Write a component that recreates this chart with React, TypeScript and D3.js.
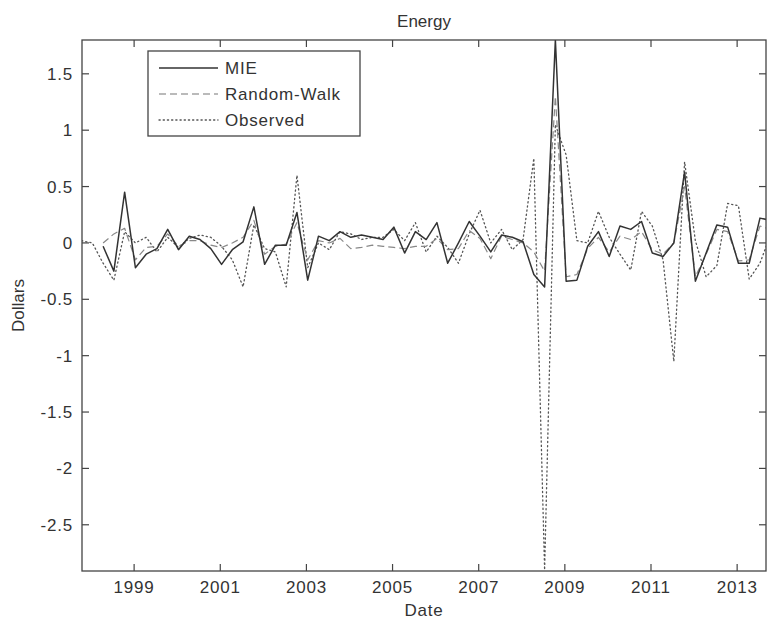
import * as d3 from "d3";
import React from "react";

// quarterly observations, first quarter sits on the left edge of the axes
const firstDate = 1997.78;
const quarterStep = 0.25;

const observed = [
  0.02, 0.0, -0.18, -0.33, 0.1, 0.0, 0.05, -0.08, 0.05, -0.04,
  0.04, 0.07, 0.05, -0.03, -0.15, -0.39, 0.16, -0.05, -0.08, -0.39,
  0.6, -0.22, 0.0, -0.06, 0.1, 0.08, 0.03, 0.05, 0.05, 0.12,
  0.02, 0.18, -0.08, 0.06, -0.04, -0.18, 0.08, 0.29, 0.0, 0.12,
  -0.06, 0.03, 0.75, -2.9, 1.05, 0.78, 0.02, 0.0, 0.28, 0.05,
  -0.1, -0.24, 0.28, 0.15, -0.15, -1.05, 0.72, 0.02, -0.3, -0.2,
  0.35, 0.33, -0.32, -0.18, 0.08,
];

const mie = [
  null, null, -0.03, -0.25, 0.45, -0.22, -0.1, -0.05, 0.12, -0.06,
  0.06, 0.03, -0.05, -0.19, -0.06, 0.01, 0.32, -0.19, -0.02, -0.02,
  0.27, -0.33, 0.06, 0.02, 0.1, 0.05, 0.07, 0.05, 0.03, 0.14,
  -0.09, 0.1, 0.03, 0.18, -0.18, 0.0, 0.19, 0.06, -0.08, 0.07,
  0.05, 0.01, -0.28, -0.39, 1.8, -0.34, -0.33, -0.03, 0.1, -0.12,
  0.15, 0.12, 0.19, -0.09, -0.12, 0.0, 0.63, -0.34, -0.09, 0.16,
  0.14, -0.18, -0.18, 0.22, 0.2,
];

const randomWalk = [
  null, null, 0.0, 0.08, 0.13, -0.15, -0.04, -0.03, 0.08, -0.03,
  0.02, 0.02, -0.02, -0.04, 0.0, 0.05, 0.2, -0.1, -0.03, -0.01,
  0.18, -0.15, 0.02, 0.0, 0.04, -0.05, -0.04, -0.02, -0.03, -0.04,
  -0.05, -0.03, -0.03, 0.04, -0.06, -0.05, 0.11, 0.04, -0.14, 0.06,
  0.03, 0.0, -0.08, -0.25, 1.3, -0.3, -0.28, -0.05, 0.05, -0.08,
  0.06, 0.03, 0.1, -0.06, -0.1, 0.0, 0.5, -0.3, -0.1, 0.12,
  0.1, -0.16, -0.15, 0.15, 0.12,
];

const xTickYears = [1999, 2001, 2003, 2005, 2007, 2009, 2011, 2013];
const yTickValues = [-2.5, -2, -1.5, -1, -0.5, 0, 0.5, 1, 1.5];

const legendItems = [
  { label: "MIE", dash: "none", color: "#333", width: 1.4 },
  { label: "Random-Walk", dash: "7,4", color: "#777", width: 1.2 },
  { label: "Observed", dash: "1.2,3", color: "#555", width: 1.3 },
];

const W = 767, H = 631;
const plot = { left: 82, right: 766, top: 40, bottom: 571 };

export default function App() {
  const dates = observed.map((_, i) => firstDate + i * quarterStep);

  const x = d3.scaleLinear().domain([1997.79, 2013.67]).range([plot.left, plot.right]);
  const y = d3.scaleLinear().domain([-2.91, 1.8]).range([plot.bottom, plot.top]);

  const mkLine = (vals: (number | null)[]) =>
    d3.line<number>()
      .defined((_, i) => vals[i] !== null)
      .x((_, i) => x(dates[i]))
      .y((_, i) => y(vals[i] as number))(dates.map((d) => d));

  const font = "Arial, 'Liberation Sans', Helvetica, sans-serif";
  const txt = "#333";
  const tickLen = 7;
  const fs = 17;
  const ls = 0.8;

  return (
    <svg width={W} height={H} style={{ position: "absolute", left: 0, top: 0, background: "#fff" }}
      fontFamily={font} letterSpacing={ls}>
      <defs>
        <clipPath id="plotClip">
          <rect x={plot.left} y={plot.top} width={plot.right - plot.left} height={plot.bottom - plot.top} />
        </clipPath>
      </defs>

      <g clipPath="url(#plotClip)" fill="none" strokeLinejoin="round">
        <path d={mkLine(observed) || ""} stroke="#555" strokeWidth={1.3} strokeDasharray="1.2,3" strokeLinecap="round" />
        <path d={mkLine(randomWalk) || ""} stroke="#888" strokeWidth={1.2} strokeDasharray="7,4" />
        <path d={mkLine(mie) || ""} stroke="#333" strokeWidth={1.5} />
      </g>

      {/* axes box */}
      <rect x={plot.left} y={plot.top} width={plot.right - plot.left} height={plot.bottom - plot.top}
        fill="none" stroke="#444" strokeWidth={1.3} />

      {xTickYears.map((t) => (
        <g key={"x" + t}>
          <line x1={x(t)} x2={x(t)} y1={plot.bottom} y2={plot.bottom - tickLen} stroke="#444" strokeWidth={1.2} />
          <line x1={x(t)} x2={x(t)} y1={plot.top} y2={plot.top + tickLen} stroke="#444" strokeWidth={1.2} />
          <text x={x(t)} y={plot.bottom + 22} textAnchor="middle" fontSize={fs} fill={txt}>{t}</text>
        </g>
      ))}

      {yTickValues.map((v) => (
        <g key={"y" + v}>
          <line x1={plot.left} x2={plot.left + tickLen} y1={y(v)} y2={y(v)} stroke="#444" strokeWidth={1.2} />
          <line x1={plot.right} x2={plot.right - tickLen} y1={y(v)} y2={y(v)} stroke="#444" strokeWidth={1.2} />
          <text x={plot.left - 9} y={y(v)} dy="0.35em" textAnchor="end" fontSize={fs} fill={txt}>{v}</text>
        </g>
      ))}

      <text x={(plot.left + plot.right) / 2} y={27} textAnchor="middle" fontSize={fs} fill={txt} letterSpacing={0}>Energy</text>
      <text x={(plot.left + plot.right) / 2} y={616} textAnchor="middle" fontSize={fs} fill={txt}>Date</text>
      <text transform={`translate(24,${(plot.top + plot.bottom) / 2}) rotate(-90)`} textAnchor="middle" fontSize={fs} fill={txt} letterSpacing={0}>Dollars</text>

      {/* legend */}
      <g>
        <rect x={148} y={51} width={212} height={85} fill="#fff" stroke="#444" strokeWidth={1.3} />
        {legendItems.map((it, i) => (
          <g key={it.label} transform={`translate(0,${68 + i * 26})`}>
            <line x1={159} x2={218} y1={0} y2={0} stroke={it.color} strokeWidth={it.width}
              strokeDasharray={it.dash === "none" ? undefined : it.dash} strokeLinecap={it.label === "Observed" ? "round" : "butt"} />
            <text x={225} y={0} dy="0.35em" fontSize={fs} fill={txt}>{it.label}</text>
          </g>
        ))}
      </g>
    </svg>
  );
}
